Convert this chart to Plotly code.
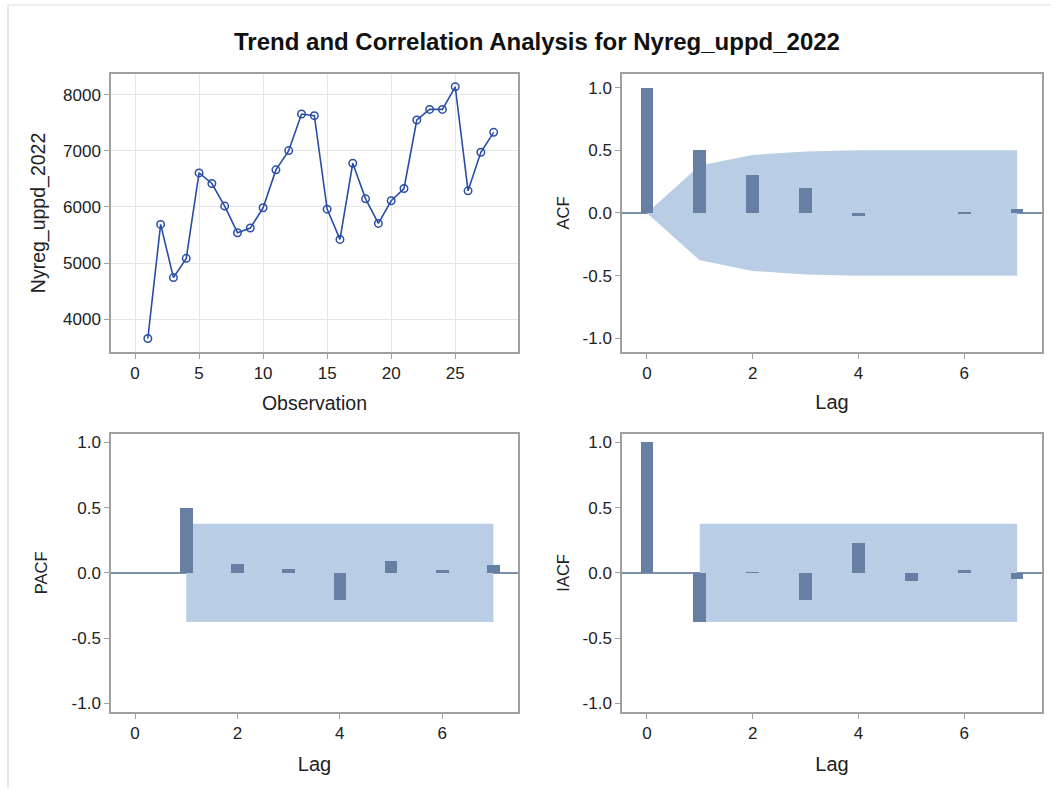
import plotly.graph_objects as go

# ---- data ----
obs = list(range(1, 29))
nyreg = [3656, 5689, 4741, 5084, 6607, 6418, 6015, 5541, 5624, 5985,
         6661, 7004, 7656, 7627, 5961, 5422, 6779, 6145, 5707, 6110,
         6329, 7550, 7739, 7739, 8142, 6287, 6975, 7330]

acf_lags = [0, 1, 2, 3, 4, 5, 6, 7]
acf_vals = [1.0, 0.501, 0.302, 0.199, -0.025, 0.0, 0.01, 0.037]
acf_band = [0.0, 0.378, 0.463, 0.490, 0.501, 0.501, 0.501, 0.501]

pacf_lags = [1, 2, 3, 4, 5, 6, 7]
pacf_vals = [0.497, 0.066, 0.03, -0.204, 0.094, 0.023, 0.059]
pacf_band = 0.377

iacf_lags = [0, 1, 2, 3, 4, 5, 6, 7]
iacf_vals = [1.0, -0.378, 0.002, -0.204, 0.23, -0.059, 0.02, -0.043]
iacf_band = 0.377
band_lags = [1, 7]

corr_ticks = [-1.0, -0.5, 0.0, 0.5, 1.0]
corr_ticktext = ["-1.0", "-0.5", "0.0", "0.5", "1.0"]
obs_ticks = [0, 5, 10, 15, 20, 25]
nyreg_ticks = [4000, 5000, 6000, 7000, 8000]
lag_ticks = [0, 2, 4, 6]

title_text = "Trend and Correlation Analysis for Nyreg_uppd_2022"

# ---- style ----
W, H = 1051, 789
BAR = "rgb(103,127,162)"
BAND = "rgb(185,205,229)"
LINE = "rgb(42,78,166)"
FRAME = "rgb(160,160,160)"
ZERO = "rgb(125,142,168)"
FONT = "Liberation Sans, Arial, sans-serif"
TXT = "#222222"


def xd(a, b):
    return [a / W, b / W]


def yd(top, bot):
    return [1 - bot / H, 1 - top / H]


def poly_path(xs, ups, los):
    pts = list(zip(xs, ups)) + list(zip(xs[::-1], los[::-1]))
    return "M " + " L ".join(f"{x},{y}" for x, y in pts) + " Z"


fig = go.Figure()

# Panel 1: series
fig.add_trace(go.Scatter(x=obs, y=nyreg, mode="lines+markers",
                         line=dict(color=LINE, width=1.6),
                         marker=dict(symbol="circle-open", size=7.5, color=LINE,
                                     line=dict(width=1.5, color=LINE)),
                         xaxis="x", yaxis="y", showlegend=False))

# Panels 2-4: bars
fig.add_trace(go.Bar(x=acf_lags, y=acf_vals, width=0.24, marker_color=BAR,
                     marker_line_width=0, xaxis="x2", yaxis="y2", showlegend=False))
fig.add_trace(go.Bar(x=pacf_lags, y=pacf_vals, width=0.245, marker_color=BAR,
                     marker_line_width=0, xaxis="x3", yaxis="y3", showlegend=False))
fig.add_trace(go.Bar(x=iacf_lags, y=iacf_vals, width=0.24, marker_color=BAR,
                     marker_line_width=0, xaxis="x4", yaxis="y4", showlegend=False))

shapes = []
# confidence bands (below traces)
shapes.append(dict(type="path", xref="x2", yref="y2", layer="below",
                   path=poly_path(acf_lags, acf_band, [-v for v in acf_band]),
                   fillcolor=BAND, line=dict(width=0)))
for xa, ya, b in (("x3", "y3", pacf_band), ("x4", "y4", iacf_band)):
    shapes.append(dict(type="rect", xref=xa, yref=ya, layer="below",
                       x0=band_lags[0], x1=band_lags[1], y0=-b, y1=b,
                       fillcolor=BAND, line=dict(width=0)))
# zero reference lines
for xa, ya in (("x2", "y2"), ("x3", "y3"), ("x4", "y4")):
    shapes.append(dict(type="line", xref=f"{xa} domain", yref=ya, layer="below",
                       x0=0, x1=1, y0=0, y1=0, line=dict(color=ZERO, width=2)))
# page frame lines
shapes.append(dict(type="line", xref="paper", yref="paper", x0=8 / W, x1=8 / W,
                   y0=0, y1=1 - 4 / H, line=dict(color="rgb(225,225,225)", width=1.5)))
shapes.append(dict(type="line", xref="paper", yref="paper", x0=8 / W, x1=1,
                   y0=1 - 4 / H, y1=1 - 4 / H, line=dict(color="rgb(232,232,232)", width=1.5)))

common = dict(showline=True, mirror=True, linecolor=FRAME, linewidth=1.5,
              ticks="outside", ticklen=5, tickcolor=FRAME, tickwidth=1.2,
              tickfont=dict(family=FONT, size=17, color=TXT))


def atitle(t, size, standoff):
    return dict(text=t, font=dict(family=FONT, size=size, color=TXT), standoff=standoff)


lag_ax = dict(tickvals=lag_ticks, showgrid=False, zeroline=False, **common)
corr_ax = dict(tickvals=corr_ticks, ticktext=corr_ticktext, showgrid=False,
               zeroline=False, **common)

fig.update_layout(
    width=W, height=H,
    margin=dict(l=0, r=0, t=0, b=0),
    paper_bgcolor="white", plot_bgcolor="white",
    bargap=0,
    title=dict(text="<b>" + title_text + "</b>", x=537 / W, xanchor="center",
               y=1 - 42 / H, yanchor="middle",
               font=dict(family=FONT, size=24, color="#111111")),
    xaxis=dict(domain=xd(111, 518), range=[-1.875, 29.9], tickvals=obs_ticks,
               showgrid=True, gridcolor="rgb(230,230,230)", gridwidth=1, zeroline=False,
               title=atitle("Observation", 19.5, 14), anchor="y", **common),
    yaxis=dict(domain=yd(73, 352), range=[3413, 8373], tickvals=nyreg_ticks,
               showgrid=True, gridcolor="rgb(230,230,230)", gridwidth=1, zeroline=False,
               title=atitle("Nyreg_uppd_2022", 19.5, 12), anchor="x", **common),
    xaxis2=dict(domain=xd(622, 1042), range=[-0.47, 7.47], title=atitle("Lag", 20, 13),
                anchor="y2", **lag_ax),
    yaxis2=dict(domain=yd(73, 352), range=[-1.11, 1.11], title=atitle("ACF", 16.5, 9),
                anchor="x2", **corr_ax),
    xaxis3=dict(domain=xd(111, 518), range=[-0.47, 7.48], title=atitle("Lag", 20, 15),
                anchor="y3", **lag_ax),
    yaxis3=dict(domain=yd(434, 712.7), range=[-1.065, 1.065], title=atitle("PACF", 16.5, 20),
                anchor="x3", **corr_ax),
    xaxis4=dict(domain=xd(622, 1042), range=[-0.47, 7.47], title=atitle("Lag", 20, 15),
                anchor="y4", **lag_ax),
    yaxis4=dict(domain=yd(434, 712.7), range=[-1.065, 1.065], title=atitle("IACF", 16.5, 9),
                anchor="x4", **corr_ax),
    shapes=shapes,
)

fig.write_html("out.html", config={"displayModeBar": False},
               post_script="document.body.style.margin='0';document.body.style.overflow='hidden';")
